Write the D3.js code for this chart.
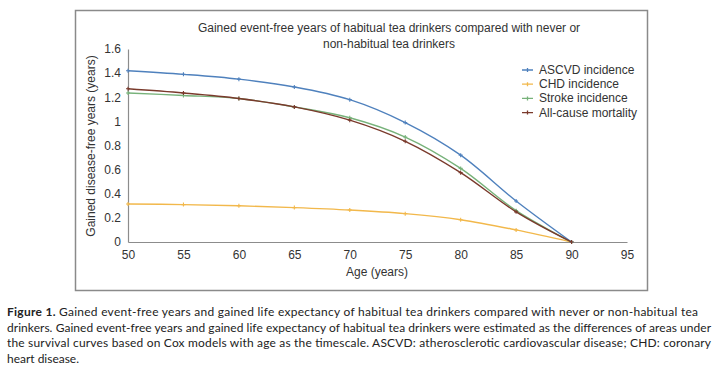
<!DOCTYPE html>
<html><head><meta charset="utf-8">
<script src="https://cdn.jsdelivr.net/npm/d3@7"></script>
<style>body{margin:0;background:#fff}svg{display:block}</style>
</head><body>
<script>
const ages = [50,55,60,65,70,75,80,85,90];
const seriesNames = ["ASCVD incidence","CHD incidence","Stroke incidence","All-cause mortality"];
const ascvd = [1.42,1.39,1.35,1.285,1.18,0.99,0.72,0.34,0];
const chd = [0.315,0.31,0.3,0.285,0.265,0.235,0.185,0.1,0];
const stroke = [1.235,1.215,1.19,1.12,1.03,0.87,0.61,0.26,0];
const allcause = [1.27,1.235,1.19,1.12,1.01,0.835,0.575,0.25,0];
const xTicks = [50,55,60,65,70,75,80,85,90,95];
const yTicks = [0,0.2,0.4,0.6,0.8,1,1.2,1.4,1.6];
const colors = ["#4f81bd","#f2b84b","#77b27a","#7a3a2c"];
const titleLines = ["Gained event-free years of habitual tea drinkers compared with never or","non-habitual tea drinkers"];
const captionLines = [
 ["Figure 1.","Gained event-free years and gained life expectancy of habitual tea drinkers compared with never or non-habitual tea"],
 ["","drinkers. Gained event-free years and gained life expectancy of habitual tea drinkers were estimated as the differences of areas under"],
 ["","the survival curves based on Cox models with age as the timescale. ASCVD: atherosclerotic cardiovascular disease; CHD: coronary"],
 ["","heart disease."]
];
const allSeries = [ascvd,chd,stroke,allcause];

const W=720,H=371;
const svg=d3.select("body").append("svg").attr("width",W).attr("height",H);
svg.append("rect").attr("width",W).attr("height",H).attr("fill","#fff");
// frame
svg.append("rect").attr("x",75.5).attr("y",10.5).attr("width",572).attr("height",280)
  .attr("fill","none").attr("stroke","#8a8a8a").attr("stroke-width",1.5);

const x=d3.scaleLinear().domain([50,95]).range([128,627]);
const y=d3.scaleLinear().domain([0,1.6]).range([242,49]);
const font="Liberation Sans, Arial, sans-serif";

// title
svg.append("g").selectAll("text").data(titleLines).join("text")
  .attr("x",389).attr("y",(d,i)=>32+i*16).attr("text-anchor","middle")
  .attr("font-family",font).attr("font-size",12).attr("fill","#333").text(d=>d);

// axes
const xa=svg.append("g").attr("transform","translate(0,242)")
  .call(d3.axisBottom(x).tickValues(xTicks).tickSize(0).tickPadding(8).tickFormat(d3.format("d")));
const ya=svg.append("g").attr("transform","translate(128,0)")
  .call(d3.axisLeft(y).tickValues(yTicks).tickSize(0).tickPadding(7).tickFormat(d=>d3.format("")(+d.toFixed(1))));
[xa,ya].forEach(a=>{
  a.select(".domain").attr("stroke","#8c8c8c").attr("stroke-width",1.2);
  a.selectAll("text").attr("font-family",font).attr("font-size",12).attr("fill","#333");
});

svg.append("text").attr("x",377).attr("y",276).attr("text-anchor","middle")
  .attr("font-family",font).attr("font-size",12).attr("fill","#333").text("Age (years)");
svg.append("text").attr("transform","translate(95,146) rotate(-90)").attr("text-anchor","middle")
  .attr("font-family",font).attr("font-size",12).attr("fill","#333").text("Gained disease-free years (years)");

// lines
const line=d3.line().x((d,i)=>x(ages[i])).y(d=>y(d)).curve(d3.curveCatmullRom.alpha(0.5));
const order=[1,2,0,3];
order.forEach(k=>{
  const vals=allSeries[k];
  svg.append("path").attr("d",line(vals)).attr("fill","none").attr("stroke",colors[k]).attr("stroke-width",1.4);
  svg.append("g").selectAll("path").data(vals).join("path")
    .attr("d",(d,i)=>{const px=x(ages[i]),py=y(d);return `M${px-2},${py}H${px+2}M${px},${py-2}V${py+2}`;})
    .attr("stroke",colors[k]).attr("stroke-width",1.1).attr("fill","none");
});

// legend
const lg=svg.append("g");
seriesNames.forEach((n,k)=>{
  const yy=70+k*14.2;
  lg.append("path").attr("d",`M522,${yy}H533M527.5,${yy-2}V${yy+2}`).attr("stroke",colors[k]).attr("stroke-width",1.3);
  lg.append("text").attr("x",539).attr("y",yy+4).attr("font-family",font).attr("font-size",12).attr("fill","#333").text(n);
});

// caption
const capFont="Lato, 'Open Sans', sans-serif";
const widths=[691,704,704,0];
const texts=[];
captionLines.forEach((l,i)=>{
  const t=svg.append("text").attr("x",7).attr("y",316+i*15.7).attr("font-family",capFont).attr("font-size",13).attr("fill","#222");
  if(l[0]){
    t.append("tspan").attr("font-weight","bold").text(l[0]+" ");
  }
  t.append("tspan").text(l[1]);
  texts.push(t);
});
let fs=13;
texts.forEach((t,i)=>{ if(widths[i]){ const w=t.node().getComputedTextLength(); fs=Math.min(fs,13*widths[i]/w*0.99);} });
texts.forEach((t,i)=>{
  t.attr("font-size",fs);
  if(widths[i]) t.attr("textLength",widths[i]).attr("lengthAdjust","spacing");
});
</script>
</body></html>
